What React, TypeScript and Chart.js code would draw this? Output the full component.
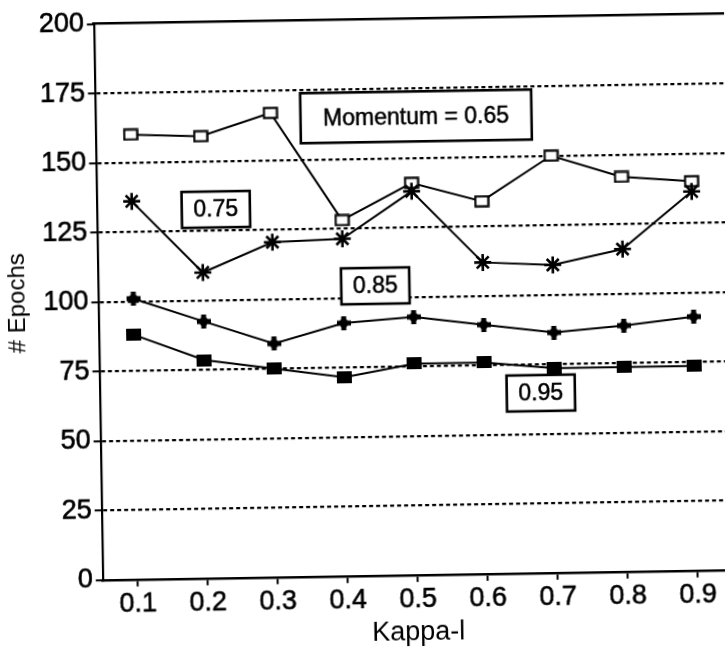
import React, { useEffect, useRef } from "react";
import { Chart, registerables } from "chart.js";

Chart.register(...registerables);

// ---- data ----
const kappaLabels = ["0.1", "0.2", "0.3", "0.4", "0.5", "0.6", "0.7", "0.8", "0.9"];
const momentum065 = [160, 159, 167, 128, 141, 134, 150, 142, 140];
const momentum075 = [136, 110, 120.5, 121.3, 138, 112, 110.7, 116, 136.3];
const momentum085 = [101, 92.4, 84, 91, 92.8, 89.6, 86.4, 88.5, 91.3];
const momentum095 = [88, 78.5, 75, 71.5, 76, 76, 73.6, 73.6, 73.6];
const yTicks = [0, 25, 50, 75, 100, 125, 150, 175, 200];
const boxLabels = ["Momentum = 0.65", "0.75", "0.85", "0.95"];
const boxKappa = [0.508, 0.22, 0.446, 0.68];
const boxEpochs = [164.9, 132.6, 104.2, 64.7];

const FONT = '"Liberation Sans", Arial, Helvetica, sans-serif';

function makeMarker(w: number, h: number, draw: (g: CanvasRenderingContext2D) => void) {
  const c = document.createElement("canvas");
  c.width = w;
  c.height = h;
  const g = c.getContext("2d") as CanvasRenderingContext2D;
  draw(g);
  return c;
}

const boxPlugin = {
  id: "boxLabels",
  afterDatasetsDraw(chart: any) {
    const { ctx } = chart;
    const x = chart.scales.x;
    const y = chart.scales.y;
    ctx.save();
    ctx.font = `23px ${FONT}`;
    boxLabels.forEach((t, i) => {
      const big = i === 0;
      const padX = big ? 22.5 : 11.7;
      const padY = big ? 13.5 : 6.5;
      const cx = x.getPixelForValue((boxKappa[i] - 0.1) / 0.1);
      const cy = y.getPixelForValue(boxEpochs[i]);
      const tw = ctx.measureText(t).width;
      const w = tw + 2 * padX;
      const h = 23 + 2 * padY;
      ctx.fillStyle = "#fff";
      ctx.fillRect(cx - w / 2, cy - h / 2, w, h);
      ctx.lineWidth = 2.6;
      ctx.strokeStyle = "#000";
      ctx.strokeRect(cx - w / 2, cy - h / 2, w, h);
      ctx.fillStyle = "#000";
      ctx.textAlign = "center";
      ctx.textBaseline = "middle";
      ctx.lineWidth = 0.5;
      ctx.strokeText(t, cx, cy + 1);
      ctx.fillText(t, cx, cy + 1);
    });
    ctx.restore();
  },
};

export default function App() {
  const ref = useRef<HTMLCanvasElement | null>(null);

  useEffect(() => {
    if (!ref.current) return;
    const openRect = makeMarker(16, 13, (g) => {
      g.fillStyle = "#fff";
      g.fillRect(1, 1, 14, 11);
      g.strokeStyle = "#000";
      g.lineWidth = 2.2;
      g.strokeRect(1.5, 1.5, 13, 10);
    });
    const filledRect = makeMarker(15, 12, (g) => {
      g.fillStyle = "#000";
      g.fillRect(0, 0, 15, 12);
    });
    const plus = makeMarker(14, 14, (g) => {
      g.fillStyle = "#000";
      g.fillRect(0, 4.5, 14, 5);
      g.fillRect(4.5, 0, 5, 14);
      g.beginPath();
      g.arc(7, 7, 4.5, 0, Math.PI * 2);
      g.fill();
    });

    const chart = new Chart(ref.current, {
      type: "line",
      data: {
        labels: kappaLabels,
        datasets: [
          {
            label: "0.65",
            data: momentum065,
            borderColor: "#000",
            borderWidth: 2,
            pointStyle: openRect as any,
            pointRadius: 7,
            fill: false,
            tension: 0,
            order: 2,
            xAxisID: "x",
            yAxisID: "y",
          },
          {
            label: "0.75",
            data: momentum075,
            borderColor: "#000",
            borderWidth: 2,
            pointStyle: "star",
            pointRadius: 8.5,
            pointBorderWidth: 2.6,
            pointBorderColor: "#000",
            pointBackgroundColor: "#000",
            fill: false,
            tension: 0,
            order: 1,
            xAxisID: "x",
            yAxisID: "y",
          },
          {
            label: "0.85",
            data: momentum085,
            borderColor: "#000",
            borderWidth: 2,
            pointStyle: plus as any,
            pointRadius: 7,
            fill: false,
            tension: 0,
            order: 3,
            xAxisID: "x",
            yAxisID: "y",
          },
          {
            label: "0.95",
            data: momentum095,
            borderColor: "#000",
            borderWidth: 2,
            pointStyle: filledRect as any,
            pointRadius: 7,
            fill: false,
            tension: 0,
            order: 4,
            xAxisID: "x",
            yAxisID: "y",
          },
        ],
      },
      options: {
        animation: false,
        responsive: false,
        maintainAspectRatio: false,
        layout: { padding: { top: 19.7, right: 16.3, left: 0, bottom: 0 } },
        plugins: { legend: { display: false }, tooltip: { enabled: false } },
        scales: {
          x: {
            type: "category",
            position: "bottom",
            offset: true,
            afterFit: (s: any) => {
              s.height = 71.2;
            },
            grid: {
              display: true,
              drawOnChartArea: false,
              drawTicks: true,
              tickLength: 7,
              tickWidth: 2,
              tickColor: "#000",
            },
            border: { display: true, color: "#000", width: 2.5 },
            ticks: {
              color: "#000",
              font: { family: FONT, size: 27 },
              padding: 2,
              maxRotation: 0,
              autoSkip: false,
              textStrokeColor: "#000",
              textStrokeWidth: 0.6,
            },
            title: {
              display: true,
              text: "Kappa-l",
              color: "#000",
              font: { family: FONT, size: 27, lineHeight: 1 },
              padding: 0,
            },
          },
          x2: {
            type: "linear",
            position: "top",
            display: true,
            min: 0,
            max: 1,
            afterFit: (s: any) => {
              s.height = 0;
            },
            ticks: { display: false },
            grid: { display: false, drawTicks: false, tickLength: 0 },
            border: { display: true, color: "#000", width: 2.5 },
          },
          y: {
            type: "linear",
            position: "left",
            min: 0,
            max: 200,
            afterFit: (s: any) => {
              s.width = 98.7;
            },
            afterBuildTicks: (s: any) => {
              s.ticks = yTicks.map((v) => ({ value: v }));
            },
            grid: {
              color: (c: any) =>
                c.tick && (c.tick.value === 0 || c.tick.value === 200) ? "rgba(0,0,0,0)" : "#000",
              lineWidth: 2.3,
              drawTicks: true,
              tickLength: 7,
              tickWidth: 2,
              tickColor: "#000",
            },
            border: { display: true, color: "#000", width: 2.2, dash: [4, 3] },
            ticks: {
              color: "#000",
              font: { family: FONT, size: 27 },
              padding: 3,
              textStrokeColor: "#000",
              textStrokeWidth: 0.6,
            },
            title: {
              display: true,
              text: "# Epochs",
              color: "#000",
              font: { family: FONT, size: 24 },
              padding: { top: 4, bottom: 0 },
            },
          },
        },
      } as any,
      plugins: [boxPlugin],
    });
    return () => chart.destroy();
  }, []);

  return (
    <div
      style={{
        position: "fixed",
        left: 0,
        top: 0,
        width: 725,
        height: 647,
        overflow: "hidden",
        background: "#fff",
      }}
    >
      <canvas
        ref={ref}
        width={745}
        height={647}
        style={{
          display: "block",
          width: 745,
          height: 647,
          transform: "rotate(-0.92deg)",
          transformOrigin: "362.5px 323.5px",
        }}
      />
    </div>
  );
}
